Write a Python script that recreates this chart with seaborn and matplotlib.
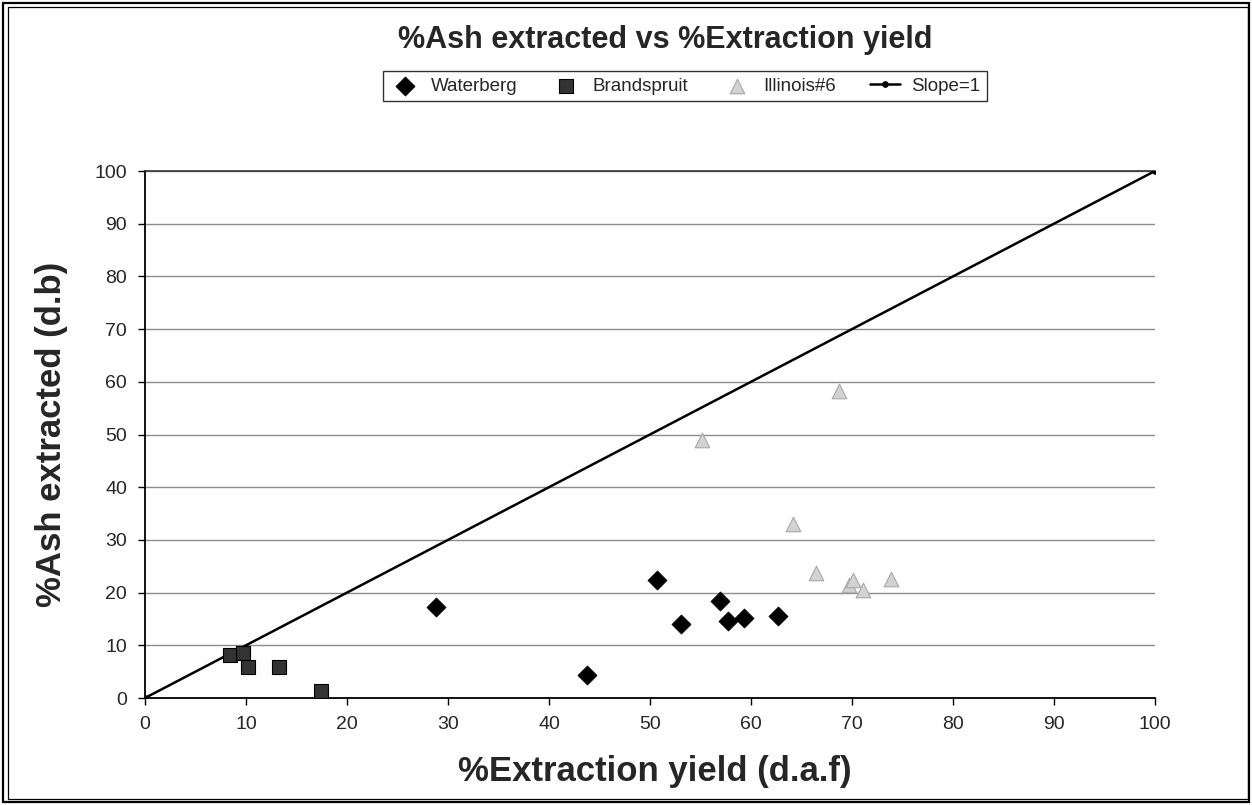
import matplotlib
matplotlib.use("Agg")
import matplotlib.pyplot as plt
import seaborn as sns
from matplotlib.patches import Rectangle

# ---- data ----
waterberg_x = [28.8, 43.8, 50.7, 53.1, 56.9, 57.7, 59.3, 62.7]
waterberg_y = [17.2, 4.4, 22.3, 14.0, 18.4, 14.6, 15.2, 15.6]

brandspruit_x = [8.4, 9.7, 10.2, 13.3, 17.4]
brandspruit_y = [8.2, 8.5, 5.8, 5.8, 1.4]

illinois_x = [55.1, 68.7, 64.2, 66.4, 69.7, 70.1, 71.1, 73.9]
illinois_y = [49.0, 58.3, 33.1, 23.7, 21.4, 22.4, 20.4, 22.6]

slope_x = [0, 100]
slope_y = [0, 100]

x_ticks = list(range(0, 101, 10))
y_ticks = list(range(0, 101, 10))

title = "%Ash extracted vs %Extraction yield"
x_label = "%Extraction yield (d.a.f)"
y_label = "%Ash extracted (d.b)"

# ---- style ----
sns.set_theme(style="white")
plt.rcParams['font.family'] = ['Liberation Sans', 'DejaVu Sans']

W, H = 1252, 805
fig = plt.figure(figsize=(W / 100, H / 100), dpi=100)
ax = fig.add_axes([145 / W, 1 - 698 / H, (1155 - 145) / W, (698 - 171) / H])

# slope line
sns.lineplot(x=slope_x, y=slope_y, ax=ax, color="black", lw=1.8,
             marker="o", markersize=4, markeredgecolor="black",
             label="Slope=1", zorder=3)

sns.scatterplot(x=waterberg_x, y=waterberg_y, ax=ax, marker="D", s=95,
                color="black", edgecolor="black", linewidth=0.5,
                label="Waterberg", zorder=4)
sns.scatterplot(x=brandspruit_x, y=brandspruit_y, ax=ax, marker="s", s=115,
                color="#333333", edgecolor="black", linewidth=0.8,
                label="Brandspruit", zorder=4)
sns.scatterplot(x=illinois_x, y=illinois_y, ax=ax, marker="^", s=110,
                color="#d2d2d2", edgecolor="#a8a8a8", linewidth=0.8,
                label="Illinois#6", zorder=4)

ax.set_xlim(0, 100)
ax.set_ylim(0, 100)
ax.set_xticks(x_ticks)
ax.set_yticks(y_ticks)
ax.tick_params(axis="both", direction="out", length=5, width=1,
               color="black", labelsize=14, pad=8, left=True, bottom=True)
ax.yaxis.grid(True, color="#8c8c8c", lw=1)
ax.xaxis.grid(False)
ax.set_axisbelow(True)
for side in ["left", "bottom"]:
    ax.spines[side].set_color("black")
    ax.spines[side].set_linewidth(1.3)
ax.spines["top"].set_color("#333333")
ax.spines["top"].set_linewidth(1.2)
ax.spines["right"].set_visible(False)

ax.set_xlabel(x_label, fontsize=25, fontweight="bold")
ax.set_ylabel(y_label, fontsize=25, fontweight="bold")
ax.xaxis.set_label_coords((655 - 145) / 1010, -(771 - 698) / 527)
ax.yaxis.set_label_coords(-(145 - 52) / 1010, 0.5)
ax.xaxis.label.set_va("center")
ax.yaxis.label.set_va("center")

fig.text(665 / W, 1 - 40 / H, title, ha="center", va="center",
         fontsize=22, fontweight="bold")

# legend in desired order
handles, labels = ax.get_legend_handles_labels()
order = ["Waterberg", "Brandspruit", "Illinois#6", "Slope=1"]
hmap = dict(zip(labels, handles))
leg = fig.legend([hmap[k] for k in order], order, loc="center",
                 bbox_to_anchor=(685 / W, 1 - 86 / H), ncol=4, frameon=True,
                 fancybox=False, edgecolor="black", fontsize=13.5,
                 handlelength=1.6, handletextpad=0.6, columnspacing=1.8,
                 borderpad=0.35)
leg.get_frame().set_linewidth(1.0)
if ax.get_legend() is not None:
    ax.get_legend().remove()

# figure border (double frame)
fig.patches.append(Rectangle((3 / W, 3 / H), 1 - 6 / W, 1 - 6 / H,
                             transform=fig.transFigure, fill=False,
                             edgecolor="black", lw=1.6))
fig.patches.append(Rectangle((8 / W, 6 / H), 1 - 12 / W, 1 - 13 / H,
                             transform=fig.transFigure, fill=False,
                             edgecolor="black", lw=0.9))

fig.savefig("out.png", dpi=100)
